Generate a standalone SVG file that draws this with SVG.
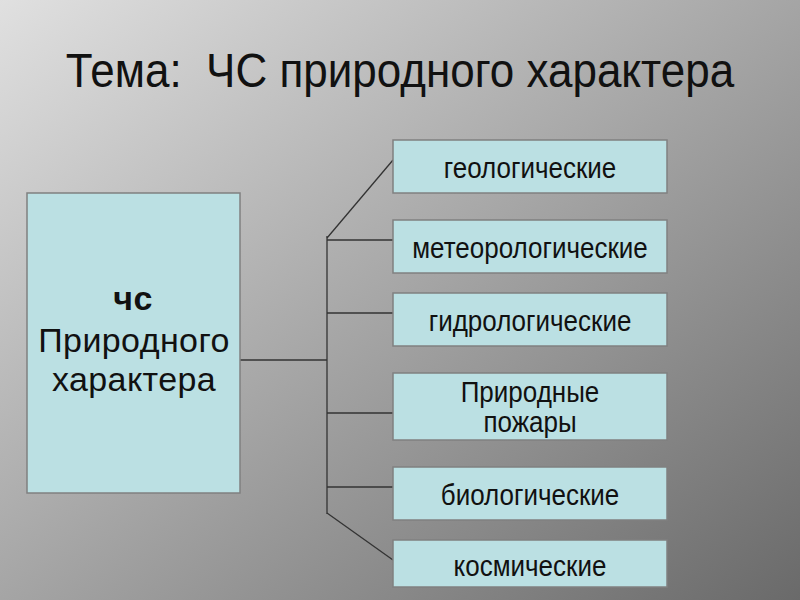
<svg xmlns="http://www.w3.org/2000/svg" width="800" height="600" viewBox="0 0 800 600">
<defs>
<linearGradient id="bg" x1="0" y1="0" x2="1" y2="1">
<stop offset="0" stop-color="#e0e0e0"/>
<stop offset="1" stop-color="#6a6a6a"/>
</linearGradient>
<style>
.box{fill:#bbe0e3;stroke:#808080;stroke-width:1.5}
.lbl{font-family:"Liberation Sans",Arial,sans-serif;font-size:26px;fill:#111;text-anchor:middle}
.big{font-family:"Liberation Sans",Arial,sans-serif;font-size:34px;fill:#111;text-anchor:middle;letter-spacing:0.4px}
.ln{stroke:#333;stroke-width:1.3;fill:none}
</style>
</defs>
<rect width="800" height="600" fill="url(#bg)"/>
<text transform="translate(400,87) scale(1,1.1)" font-family="'Liberation Sans',Arial,sans-serif" font-size="44" fill="#111" text-anchor="middle" xml:space="preserve">Тема:  ЧС природного характера</text>
<g id="connectors">
<line class="ln" x1="327" y1="236" x2="327" y2="514"/>
<line class="ln" x1="240" y1="360" x2="327" y2="360"/>
<line class="ln" x1="327" y1="238" x2="393" y2="160"/>
<line class="ln" x1="327" y1="240" x2="393" y2="240"/>
<line class="ln" x1="327" y1="313" x2="393" y2="313"/>
<line class="ln" x1="327" y1="413" x2="393" y2="413"/>
<line class="ln" x1="327" y1="487" x2="393" y2="487"/>
<line class="ln" x1="327" y1="513" x2="393" y2="560"/>
</g>
<g id="main">
<rect class="box" x="27" y="193" width="213" height="300"/>
<text class="big" x="133" y="310" font-weight="bold">чс</text>
<text class="big" x="134" y="352">Природного</text>
<text class="big" x="134" y="391">характера</text>
</g>
<g id="geo"><rect class="box" x="393" y="140" width="274" height="53"/><text class="lbl" transform="translate(530,178) scale(1,1.15)">геологические</text></g>
<g id="meteo"><rect class="box" x="393" y="220" width="274" height="53"/><text class="lbl" transform="translate(530,258) scale(1,1.15)">метеорологические</text></g>
<g id="hydro"><rect class="box" x="393" y="293" width="274" height="53"/><text class="lbl" transform="translate(530,331) scale(1,1.15)">гидрологические</text></g>
<g id="fires"><rect class="box" x="393" y="373" width="274" height="67"/><text class="lbl" transform="translate(530,402) scale(1,1.15)">Природные</text><text class="lbl" transform="translate(530,432) scale(1,1.15)">пожары</text></g>
<g id="bio"><rect class="box" x="393" y="467" width="274" height="53"/><text class="lbl" transform="translate(530,505) scale(1,1.15)">биологические</text></g>
<g id="cosmic"><rect class="box" x="393" y="540" width="274" height="47"/><text class="lbl" transform="translate(530,576) scale(1,1.15)">космические</text></g>
</svg>
